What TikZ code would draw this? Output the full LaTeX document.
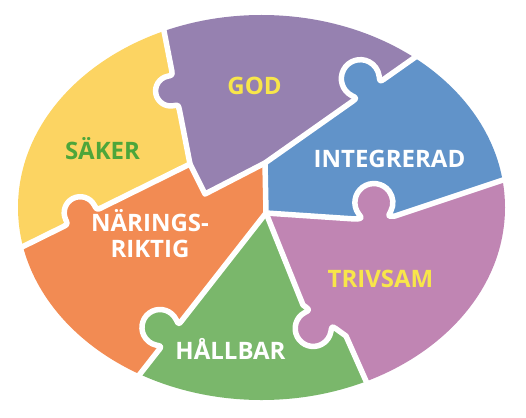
\documentclass[tikz,border=0pt]{standalone}
\usepackage{fontspec}
\setmainfont{Open Sans}
\usetikzlibrary{calc}
\definecolor{cyel}{HTML}{FCD462}
\definecolor{cpur}{HTML}{9681B0}
\definecolor{cblu}{HTML}{6193C9}
\definecolor{cpnk}{HTML}{C085B3}
\definecolor{cgrn}{HTML}{7AB76B}
\definecolor{cora}{HTML}{F28B53}
\definecolor{tyel}{HTML}{F8E64A}
\definecolor{tgrn}{HTML}{4DA63A}
% #1 foot point, #2 tangent (canvas, pt), #3 normal towards neighbour (canvas, pt), #4 h, #5 R, #6 colour
\newcommand\knob[6]{%
  \pgfmathsetmacro\kc{sqrt((#5)^2-(#4)^2)}%
  \pgfmathsetmacro\kb{asin((#4)/(#5))}%
  \pgfmathsetmacro\ka{180+\kb-20}%
  \pgfmathsetmacro\kz{-\kb+20}%
  \pgfmathsetmacro\kau{(#5)*cos(\ka)}%
  \pgfmathsetmacro\kav{(#4)+(#5)*sin(\ka)}%
  \pgfmathsetmacro\kpu{\kau-4*sin(\ka)}%
  \pgfmathsetmacro\kpv{\kav+4*cos(\ka)}%
  \pgfmathsetmacro\kf{\kc+5}%
  \pgfmathsetmacro\kq{\kf-4}%
  \begin{scope}[shift={(#1)}, x={(#2)}, y={(#3)}]
    \fill[#6] (-\kf,0) .. controls (-\kq,0) and (\kpu,\kpv) .. (\kau,\kav)
      arc[start angle=\ka, end angle=\kz, radius=#5]
      .. controls (-\kpu,\kpv) and (\kq,0) .. (\kf,0) -- (\kf,-4) -- (-\kf,-4) -- cycle;
    \draw[gap] (-\kf,0) .. controls (-\kq,0) and (\kpu,\kpv) .. (\kau,\kav)
      arc[start angle=\ka, end angle=\kz, radius=#5]
      .. controls (-\kpu,\kpv) and (\kq,0) .. (\kf,0);
  \end{scope}}
\begin{document}
\begin{tikzpicture}[x=1pt,y=-1pt,
  gap/.style={draw=white, line width=5.5pt, line cap=round, line join=round},
  lbl/.style={font=\fontsize{24}{26}\selectfont\bfseries, inner sep=0pt, anchor=base}]
\useasboundingbox (0,0) rectangle (526,417);
\coordinate (J1) at (190,164);
\coordinate (J2) at (205,194);
\coordinate (J3) at (265,163);
\coordinate (J4) at (266,213);
\coordinate (Eyp) at (164,31);
\coordinate (Epb) at (414,58);
\coordinate (Ebp) at (503,180);
\coordinate (Epg) at (366,381);
\coordinate (Ego) at (140,374);
\coordinate (Eoy) at (22,247);
\coordinate (V1) at (355,219);
\coordinate (V2) at (395,216);
\coordinate (Q1) at (303,305);
\coordinate (Q2) at (346,336);
\begin{scope}
  \clip (261.5,207.5) ellipse [x radius=243.5, y radius=192.5];
  \fill[cyel] (0,0) -- (158,0) -- (Eyp) -- (J1) -- (Eoy) -- (0,258) -- cycle;
  \fill[cpur] (158,0) -- (Eyp) -- (J1) -- (J2) -- (J3) -- (Epb) -- (496,0) -- cycle;
  \fill[cblu] (J3) -- (Epb) -- (496,0) -- (526,0) -- (526,172) -- (Ebp) -- (V2) -- (V1) -- (J4) -- cycle;
  \fill[cpnk] (J4) -- (V1) -- (V2) -- (Ebp) -- (526,172) -- (526,417) -- (382,417) -- (Epg) -- (Q2) -- (Q1) -- cycle;
  \fill[cgrn] (J4) -- (Q1) -- (Q2) -- (Epg) -- (382,417) -- (106,417) -- (Ego) -- cycle;
  \fill[cora] (J1) -- (J2) -- (J3) -- (J4) -- (Ego) -- (106,417) -- (0,417) -- (0,258) -- (Eoy) -- cycle;
\end{scope}
\draw[gap] (158,0) -- (Eyp) -- (J1) -- (J2) -- (J3) -- (Epb) -- (496,0);
\draw[gap] (J1) -- (Eoy) -- (0,258);
\draw[gap] (J3) -- (J4);
\draw[gap] (J4) -- (Ego) -- (106,417);
\draw[gap] (J4) -- (V1) -- (V2) -- (Ebp) -- (526,172);
\draw[gap] (J4) -- (Q1) -- (Q2) -- (Epg) -- (382,417);
% knobs: tangent/normal given in canvas pt (image y negated)
\knob{175.5,90}{0.192pt,-0.982pt}{-0.982pt,-0.192pt}{5}{15}{cpur}
\knob{368.4,90.1}{0.817pt,0.576pt}{-0.576pt,0.817pt}{14}{19}{cblu}
\knob{375,217.5}{0.997pt,0.075pt}{-0.075pt,0.997pt}{15}{19}{cpnk}
\knob{82.4,217.2}{-0.897pt,-0.443pt}{-0.443pt,0.897pt}{5}{16}{cora}
\knob{170.2,335.5}{-0.616pt,-0.788pt}{-0.788pt,0.616pt}{13}{18}{cgrn}
\knob{320.8,317.9}{0.811pt,-0.585pt}{-0.585pt,-0.811pt}{13}{18}{cpnk}
\node[lbl, text=tyel] (god) at (254.5,94) {GOD};
\node[lbl, text=tgrn] (saker) at (102.5,159) {SÄKER};
\node[lbl, text=white] (integ) at (389.5,167) {INTEGRERAD};
\node[lbl, text=white, align=center] (nar) at (150,257) {NÄRINGS-\\RIKTIG};
\node[lbl, text=white] (hall) at (230.5,359) {HÅLLBAR};
\node[lbl, text=tyel] (triv) at (380.5,287) {TRIVSAM};
\end{tikzpicture}
\end{document}
